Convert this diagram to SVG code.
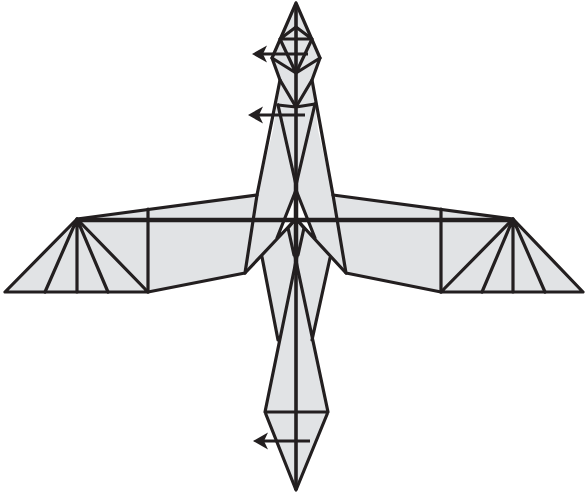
<svg xmlns="http://www.w3.org/2000/svg" width="585" height="494" viewBox="0 0 585 494">
<style>
.f{fill:#e1e3e5;stroke:none}
.l{fill:none;stroke:#231f20;stroke-width:3.2;stroke-linejoin:round;stroke-linecap:round}
.t{fill:none;stroke:#231f20;stroke-width:4.5}
.c{fill:none;stroke:#231f20;stroke-width:3.6}
.a{fill:none;stroke:#231f20;stroke-width:2.8}
.h{fill:#231f20;stroke:none}
</style>
<defs><path id="ah" class="h" d="M0 0L15 -8.5L11 0L15 8.5Z"/></defs>
<g id="body">
<path class="f" d="M296 4L320 58L312 80L318 130L333 195L513 219L583 292L441 292L346 273L330 258L312 340L328 412L296 490L265 412L278 340L262 257L245 273L148 292L5 292L77 219L257 195L273 130L280 80L272 58Z"/>
<path fill="#fff" d="M296 192L284 220L308 220Z"/>
<path fill="#fff" d="M283 222L292 222L279 235Z"/>
<path fill="#fff" d="M309 222L300 222L313 235Z"/>
</g>
<g id="connectors">
<path class="l" d="M296 3L272 58L280 80L257 195L245 273L148 292M296 3L320 58L312 80L333 195L346 273L441 292"/>
<path class="l" d="M280 39H312M280 39L296 27L312 39M280 39L296 73L312 39M272 58L296 73L320 58"/>
<path class="l" d="M280 80L296 107L312 80M278 105L296 107L315 104"/>
<path class="l" d="M278 105L296 185L315 104"/>
<path class="l" d="M257 195L77 219L5 292H148L77 219M333 195L513 219L583 292H441L513 219"/>
<path class="l" d="M77 219L45 292M77 219V292M77 219L108 292M513 219L482 292M513 219V292M513 219L545 292M148 209V292M441 209V292"/>
<path class="l" d="M296 190L277 238M296 190L315 238M293 222L245 273M299 222L346 273"/>
<path class="l" d="M293 222L288 228L294 255M299 222L304 228L298 255"/>
<path class="l" d="M262 257L278 340M330 258L312 340M297 256L265 412L296 490L328 412L295 256M265 412H328"/>
<path class="t" d="M77 220H513"/>
<path class="c" d="M296 4V490"/>
<path class="t" d="M296 178V275"/>
<path class="a" d="M308 54H262M305 115H258M310 441H263"/>
<use href="#ah" x="252" y="54"/>
<use href="#ah" x="248" y="115"/>
<use href="#ah" x="253" y="441"/>
</g>
</svg>
